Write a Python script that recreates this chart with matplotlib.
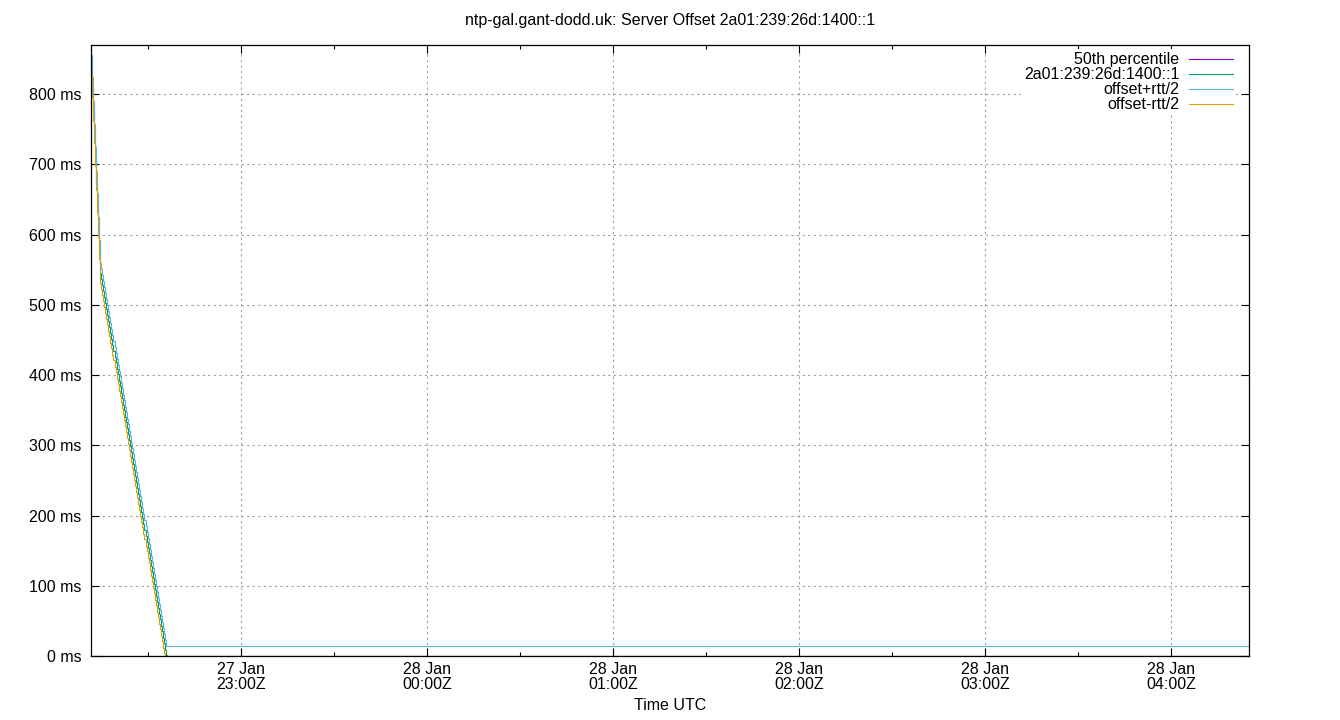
import numpy as np
import matplotlib
matplotlib.use("Agg")
import matplotlib.pyplot as plt
import matplotlib.dates as mdates
from datetime import datetime, timedelta

plt.rcParams['font.family'] = ['Liberation Sans', 'DejaVu Sans']

TITLE = "ntp-gal.gant-dodd.uk: Server Offset 2a01:239:26d:1400::1"
start = datetime(2024, 1, 27, 22, 11, 38)

# seconds after start, offset in ms
secs = [0, 19, 39, 58, 78, 97, 117, 136, 155, 175,
        195, 215, 235, 255, 275, 295, 315, 335, 355, 375,
        395, 415, 435, 455, 475, 495, 515, 535, 555, 575,
        595, 615, 635, 655, 675, 695, 715, 735, 755, 775,
        795, 815, 835, 855, 875, 895, 915, 935, 955, 975,
        995, 1015, 1035, 1055, 1075, 1095, 1115, 1135, 1155, 1175,
        1195, 1215, 1235, 1255, 1275, 1295, 1315, 1335, 1355, 1375,
        1395, 1415, 1435, 1455,
        1475, 1800, 3600, 7200, 10800, 14400, 18000, 21000, 22410]
offset_ms = [842, 810, 776, 744, 711, 677, 645, 611, 579, 545,
             537, 528, 520, 511, 503, 494, 486, 477, 469, 460,
             452, 443, 435, 426, 418, 409, 401, 392, 384, 375,
             367, 358, 350, 341, 333, 324, 316, 307, 299, 290,
             282, 273, 265, 256, 248, 239, 231, 222, 214, 205,
             197, 188, 180, 171, 163, 154, 146, 137, 128, 120,
             111, 103, 94, 86, 77, 69, 60, 52, 43, 35,
             26, 18, 9, 0.8,
             -0.4, -0.4, -0.4, -0.4, -0.4, -0.4, -0.4, -0.4, -0.4]
rtt_ms = 28
p50_ms = -0.4   # median offset (hidden under the x axis)

t = [start + timedelta(seconds=s) for s in secs]
off = np.array(offset_ms)

PURPLE = '#9400d3'
GREEN = '#009e73'
BLUE = '#56b4e9'
ORANGE = '#e69f00'
FS = 11.5

fig = plt.figure(figsize=(13.4, 7.2), dpi=100)
ax = fig.add_axes([91/1340, 64/720, 1158/1340, 611/720])

ax.plot([t[0], t[-1]], [p50_ms, p50_ms], color=PURPLE, lw=0.8, label='50th percentile')
ax.step(t, off, where='post', color=GREEN, lw=0.8, label='2a01:239:26d:1400::1')
ax.step(t, off + rtt_ms / 2, where='post', color=BLUE, lw=0.8, label='offset+rtt/2')
ax.step(t, off - rtt_ms / 2, where='post', color=ORANGE, lw=0.8, label='offset-rtt/2')

ax.set_xlim(t[0], t[-1])
ax.set_ylim(0, 870)
ax.set_yticks(np.arange(0, 801, 100))
ax.set_yticklabels([f"{v} ms" for v in range(0, 801, 100)])

ax.xaxis.set_major_locator(mdates.HourLocator())
ax.xaxis.set_minor_locator(mdates.MinuteLocator(byminute=[30]))
ax.xaxis.set_major_formatter(mdates.DateFormatter("%d %b\n%H:%MZ"))

ax.grid(True, which='major', color='#a0a0a0', lw=0.8, linestyle=(0, (2, 3)))
ax.tick_params(which='both', direction='in', top=True, right=True, width=0.8,
               labelsize=FS, colors='black')
ax.tick_params(which='major', length=6)
ax.tick_params(which='minor', length=3)
ax.tick_params(axis='y', pad=7)
ax.tick_params(axis='x', pad=4)
for lbl in ax.get_xticklabels():
    lbl.set_linespacing(1.0)
for s in ax.spines.values():
    s.set_linewidth(0.9)

fig.text(0.5, 1 - 21/720, TITLE, ha='center', va='center', fontsize=FS)
fig.text(0.5, 1 - 706/720, 'Time UTC', ha='center', va='center', fontsize=FS)

leg = ax.legend(loc='upper right', bbox_to_anchor=((1236 - 91) / 1158, 1 - 4 / 611),
                markerfirst=False, fontsize=FS, frameon=True,
                fancybox=False, framealpha=1, edgecolor='none', facecolor='white',
                handlelength=2.75, handletextpad=0.6, labelspacing=0.0,
                borderpad=0.2, borderaxespad=0)

fig.savefig('out.png', dpi=100)
